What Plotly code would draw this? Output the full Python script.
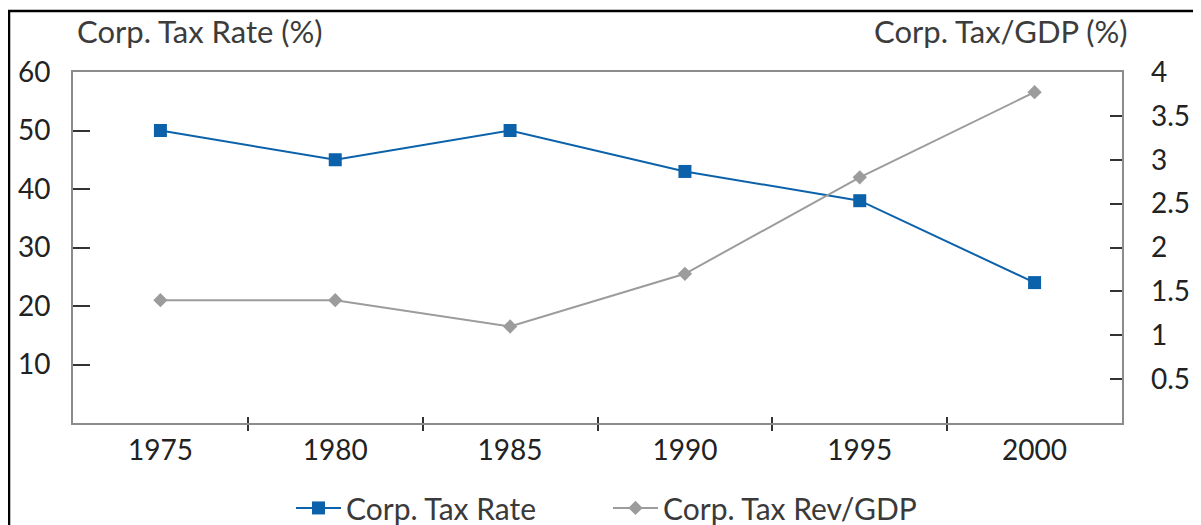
import plotly.graph_objects as go

# data
years = [1975, 1980, 1985, 1990, 1995, 2000]
year_labels = ["1975", "1980", "1985", "1990", "1995", "2000"]
tax_rate = [50, 45, 50, 43, 38, 24]
tax_gdp = [1.4, 1.4, 1.1, 1.7, 2.8, 3.77]
left_ticks = [10, 20, 30, 40, 50, 60]
right_ticks = [0.5, 1, 1.5, 2, 2.5, 3, 3.5, 4]
right_labels = ["0.5", "1", "1.5", "2", "2.5", "3", "3.5", "4"]
boundaries = [1977.5, 1982.5, 1987.5, 1992.5, 1997.5]

FONT = "Lato"
BLUE = "#0b62aa"
GREY = "#9c9c9c"
AXIS = "#8c8c8c"

fig = go.Figure()

fig.add_trace(go.Scatter(
    x=years, y=tax_rate, name="Corp. Tax Rate", mode="lines+markers",
    line=dict(color=BLUE, width=2),
    marker=dict(symbol="square", size=13, color=BLUE),
    xaxis="x", yaxis="y",
))
fig.add_trace(go.Scatter(
    x=years, y=tax_gdp, name="Corp. Tax Rev/GDP", mode="lines+markers",
    line=dict(color=GREY, width=2),
    marker=dict(symbol="diamond", size=11, color=GREY),
    xaxis="x2", yaxis="y2",
))

# page body has an 8px margin, so the figure is a bit smaller than the window
fig.update_layout(
    width=1193, height=517,
    margin=dict(l=65, r=79, t=64, b=102, autoexpand=False),
    paper_bgcolor="white", plot_bgcolor="white",
    font=dict(family=FONT, size=28, color="#222222"),
    showlegend=True,
    legend=dict(orientation="h", x=0.51, xanchor="center", y=-0.242, yanchor="middle",
                font=dict(size=30, color="#3a3a3a"), itemwidth=45,
                entrywidth=257, entrywidthmode="pixels"),
    xaxis=dict(
        range=[1972.5, 2002.5], tickvals=boundaries, showticklabels=False,
        ticks="outside", ticklen=6, tickwidth=2, tickcolor="#333333",
        showline=True, linecolor=AXIS, linewidth=2, mirror=True,
        showgrid=False, zeroline=False, automargin=False,
    ),
    xaxis2=dict(
        overlaying="x", matches="x", anchor="y", side="bottom",
        range=[1972.5, 2002.5], tickvals=years, ticktext=year_labels,
        ticks="", ticklabelstandoff=8,
        minor=dict(tickvals=boundaries, ticks="inside", ticklen=6, tickwidth=2, tickcolor="#333333"),
        showline=False, showgrid=False, zeroline=False, automargin=False,
    ),
    yaxis=dict(
        range=[0, 60], tickvals=left_ticks, ticks="inside", ticklen=17, tickwidth=2,
        tickcolor="#333333", ticklabelstandoff=15,
        showline=True, linecolor=AXIS, linewidth=2, mirror=True,
        showgrid=False, zeroline=False, automargin=False,
    ),
    yaxis2=dict(
        overlaying="y", side="right", anchor="x",
        range=[0, 4], tickvals=right_ticks, ticktext=right_labels,
        ticks="inside", ticklen=12, tickwidth=2, tickcolor="#333333",
        ticklabelstandoff=28, showline=False, showgrid=False, zeroline=False,
        automargin=False,
    ),
    annotations=[
        dict(text="Corp. Tax Rate (%)", xref="paper", yref="paper", x=0.002, y=1.116,
             xanchor="left", yanchor="middle", showarrow=False,
             font=dict(size=31, color="#3c3c3c")),
        dict(text="Corp. Tax/GDP (%)", xref="paper", yref="paper", x=1.0075, y=1.116,
             xanchor="right", yanchor="middle", showarrow=False,
             font=dict(size=31, color="#3c3c3c")),
    ],
    shapes=[
        dict(type="rect", xref="paper", yref="paper", x0=-0.061, x1=1.2, y0=-0.5, y1=1.174,
             line=dict(color="black", width=2.5), fillcolor="rgba(0,0,0,0)", layer="below"),
    ],
)

fig.write_html("out.html")
